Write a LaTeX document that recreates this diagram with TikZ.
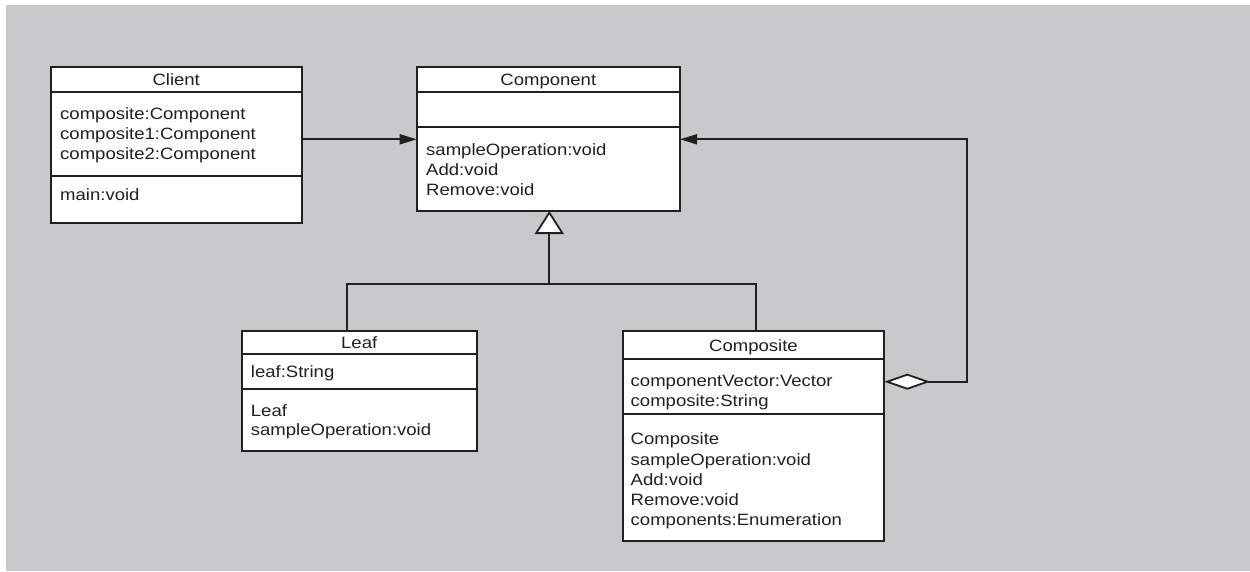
\documentclass[tikz,border=0pt]{standalone}
\usepackage{fontspec}
\setmainfont[FakeStretch=1.13]{Liberation Sans}
\usetikzlibrary{arrows.meta}
\definecolor{panel}{RGB}{200,201,203}
\definecolor{ink}{RGB}{35,31,32}
\begin{document}
\begin{tikzpicture}[x=1pt,y=-1pt,
  classbox/.style={draw=ink, fill=white, line width=1.8pt, outer sep=0pt, inner sep=0pt, anchor=north west},
  divider/.style={draw=ink, line width=1.8pt},
  wire/.style={draw=ink, line width=1.8pt},
  member/.style={anchor=base west, inner sep=0pt, text=ink},
  heading/.style={anchor=base, inner sep=0pt, text=ink},
  every node/.append style={font=\fontsize{16.4}{20}\selectfont}]
% canvas
\useasboundingbox (0,0) rectangle (1250,571);
\fill[white] (0,0) rectangle (1250,571);
\fill[panel] (6,5) rectangle (1250,571);

% ---------- Client ----------
\node[classbox, minimum width=251pt, minimum height=156pt] (Client) at (50.7,67.3) {};
\draw[divider] (Client.west |- 0,91.7) -- (Client.east |- 0,91.7);
\draw[divider] (Client.west |- 0,175.7) -- (Client.east |- 0,175.7);
\node[heading] (clientT) at (176.2,85.5) {Client};
\node[member] (clientA1) at (60,119) {composite:Component};
\node[member] (clientA2) at (60,139) {composite1:Component};
\node[member] (clientA3) at (60,159) {composite2:Component};
\node[member] (clientM1) at (60,200.5) {main:void};

% ---------- Component ----------
\node[classbox, minimum width=263.3pt, minimum height=143.7pt] (Component) at (416.7,67.3) {};
\draw[divider] (Component.west |- 0,91.7) -- (Component.east |- 0,91.7);
\draw[divider] (Component.west |- 0,127.3) -- (Component.east |- 0,127.3);
\node[heading] (componentT) at (548.3,85.5) {Component};
\node[member] (componentM1) at (426,155) {sampleOperation:void};
\node[member] (componentM2) at (426,175) {Add:void};
\node[member] (componentM3) at (426,195) {Remove:void};

% ---------- Leaf ----------
\node[classbox, minimum width=235pt, minimum height=120.3pt] (Leaf) at (241.7,330.7) {};
\draw[divider] (Leaf.west |- 0,354.3) -- (Leaf.east |- 0,354.3);
\draw[divider] (Leaf.west |- 0,389.3) -- (Leaf.east |- 0,389.3);
\node[heading] (leafT) at (359.2,348.3) {Leaf};
\node[member] (leafA1) at (250.7,377.3) {leaf:String};
\node[member] (leafM1) at (250.7,416) {Leaf};
\node[member] (leafM2) at (250.7,435.8) {sampleOperation:void};

% ---------- Composite ----------
\node[classbox, minimum width=261.6pt, minimum height=210.3pt] (Composite) at (622.7,330.7) {};
\draw[divider] (Composite.west |- 0,359) -- (Composite.east |- 0,359);
\draw[divider] (Composite.west |- 0,414.3) -- (Composite.east |- 0,414.3);
\node[heading] (compositeT) at (753.5,351) {Composite};
\node[member] (compositeA1) at (630.5,386) {componentVector:Vector};
\node[member] (compositeA2) at (630.5,406) {composite:String};
\node[member] (compositeM1) at (630.5,444.5) {Composite};
\node[member] (compositeM2) at (630.5,465) {sampleOperation:void};
\node[member] (compositeM3) at (630.5,485) {Add:void};
\node[member] (compositeM4) at (630.5,505) {Remove:void};
\node[member] (compositeM5) at (630.5,525.5) {components:Enumeration};

% ---------- connectors ----------
% Client uses Component
\draw[wire, -{Triangle[length=17pt, width=10pt]}]
  (Client.east |- 0,139.3) -- (Component.west |- 0,139.3);

% Leaf and Composite generalise Component
\coordinate (fork) at (549.3,284.3);
\draw[wire, line join=miter] (Leaf.north -| 346.7,0) |- (fork) -| (Composite.north -| 755.7,0);
\draw[wire, -{Triangle[open, fill=white, length=23pt, width=29pt]}]
  (fork) -- (Component.south -| fork);

% Composite aggregates Component
\draw[wire, line join=miter, {Diamond[open, fill=white, length=46pt, width=16pt]}-{Triangle[length=17pt, width=10pt]}]
  (Composite.east |- 0,381.7) -| (967.3,139.3) -- (Component.east |- 0,139.3);
\end{tikzpicture}
\end{document}
